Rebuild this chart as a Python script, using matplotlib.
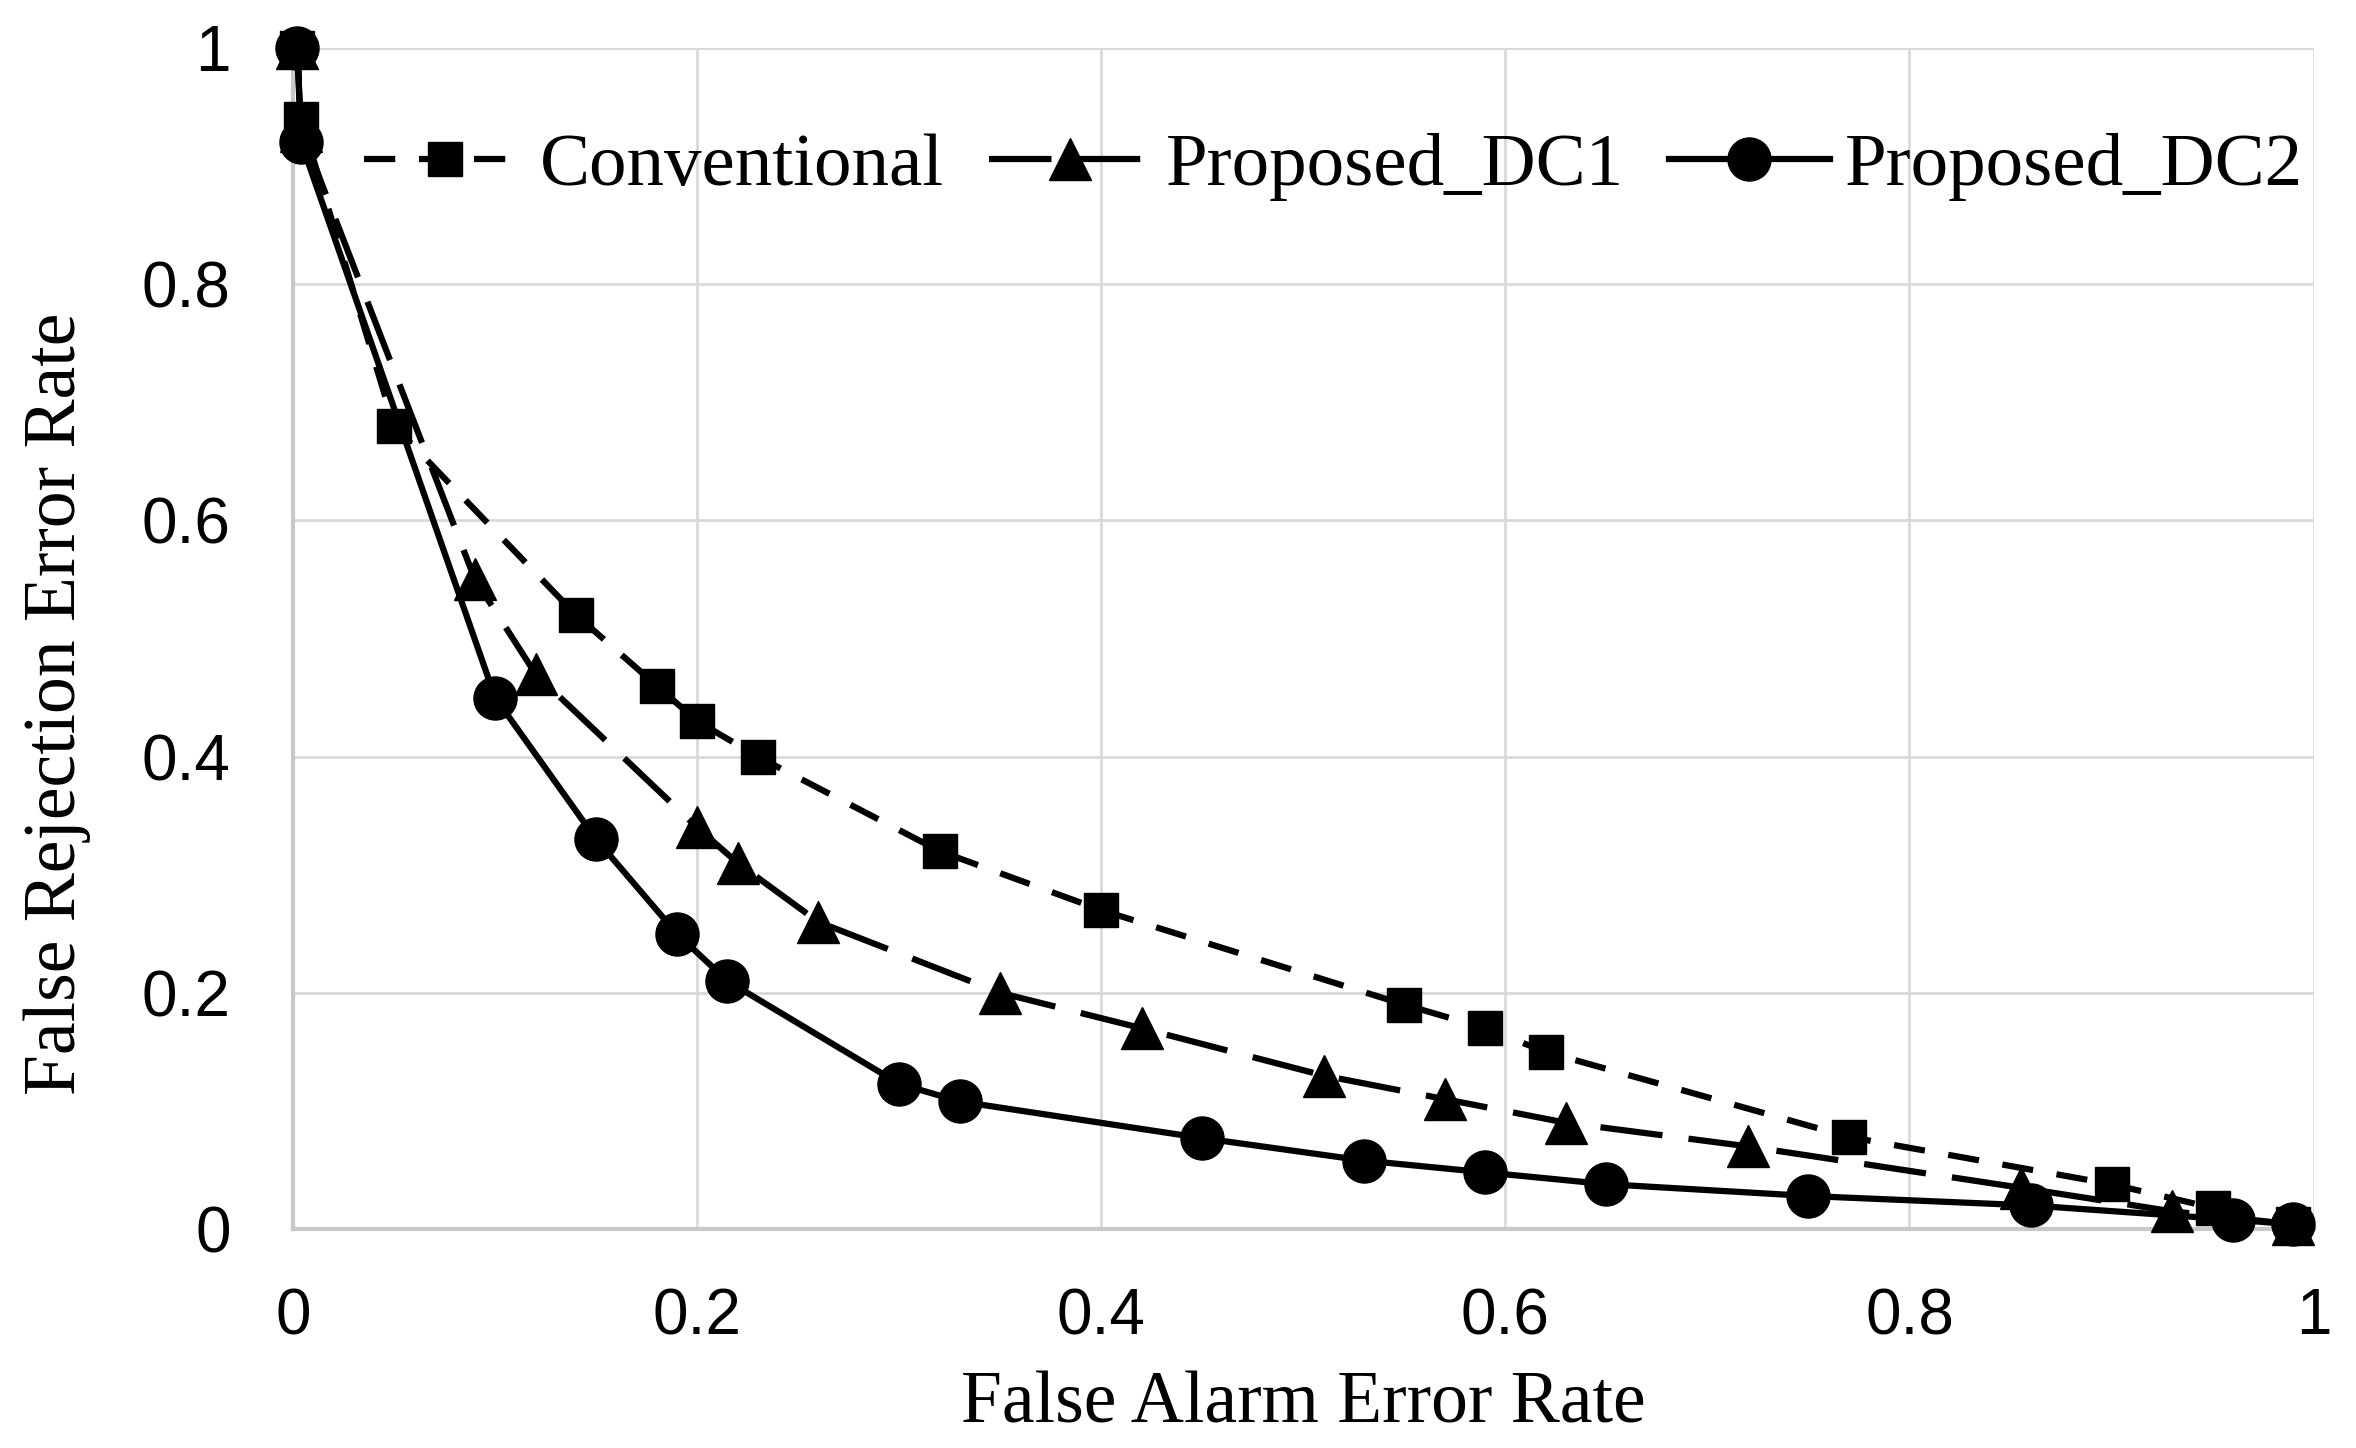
import numpy as np
import matplotlib
matplotlib.use("Agg")
import matplotlib.pyplot as plt

# Data
conv_x = [0.002, 0.004, 0.05, 0.14, 0.18, 0.20, 0.23, 0.32, 0.40, 0.55, 0.59, 0.62, 0.77, 0.90, 0.95, 0.99]
conv_y = [1.00, 0.94, 0.68, 0.52, 0.46, 0.43, 0.40, 0.32, 0.27, 0.19, 0.17, 0.15, 0.078, 0.038, 0.018, 0.004]

dc1_x = [0.002, 0.004, 0.09, 0.12, 0.20, 0.22, 0.26, 0.35, 0.42, 0.51, 0.57, 0.63, 0.72, 0.855, 0.93, 0.99]
dc1_y = [1.00, 0.93, 0.55, 0.47, 0.34, 0.31, 0.26, 0.20, 0.17, 0.13, 0.11, 0.09, 0.07, 0.035, 0.015, 0.004]

dc2_x = [0.002, 0.004, 0.10, 0.15, 0.19, 0.215, 0.30, 0.33, 0.45, 0.53, 0.59, 0.65, 0.75, 0.86, 0.96, 0.99]
dc2_y = [1.00, 0.92, 0.45, 0.33, 0.25, 0.21, 0.123, 0.108, 0.077, 0.058, 0.048, 0.038, 0.028, 0.02, 0.008, 0.004]

ticks = [0, 0.2, 0.4, 0.6, 0.8, 1]
tick_labels = ["0", "0.2", "0.4", "0.6", "0.8", "1"]

fig = plt.figure(figsize=(23.56, 14.48), dpi=100)
ax = fig.add_axes([0.1244, 0.1512, 0.982 - 0.1244, 0.9669 - 0.1512])

lw = 4.5
ax.plot(conv_x, conv_y, color="black", lw=lw, dashes=(5.0, 3.8), marker="s", ms=25,
        label="Conventional", clip_on=False, zorder=3)
ax.plot(dc1_x, dc1_y, color="black", lw=lw, dashes=(10, 4.2), marker="^", ms=30,
        label="Proposed_DC1", clip_on=False, zorder=3)
ax.plot(dc2_x, dc2_y, color="black", lw=lw, ls="-", marker="o", ms=31,
        label="Proposed_DC2", clip_on=False, zorder=3)

ax.set_xlim(0, 1)
ax.set_ylim(0, 1)
ax.set_xticks(ticks)
ax.set_yticks(ticks)
ax.set_xticklabels(tick_labels, fontfamily="Liberation Sans", fontsize=46)
ax.set_yticklabels(tick_labels, fontfamily="Liberation Sans", fontsize=46)
ax.tick_params(axis="both", length=0)
ax.tick_params(axis="y", pad=45)
ax.tick_params(axis="x", pad=42)

ax.grid(True, color="#d9d9d9", lw=2)
ax.set_axisbelow(True)
for side in ["top", "right"]:
    ax.spines[side].set_visible(False)
for side in ["left", "bottom"]:
    ax.spines[side].set_color("#c8c8c8")
    ax.spines[side].set_linewidth(3)

ax.set_xlabel("False Alarm Error Rate", fontfamily="Liberation Serif", fontsize=53)
ax.set_ylabel("False Rejection Error Rate", fontfamily="Liberation Serif", fontsize=53)
ax.xaxis.set_label_coords(0.5, -0.12)
ax.yaxis.set_label_coords(-0.1, 0.445)

ax.legend(loc="center", bbox_to_anchor=(0.566, 0.885), bbox_transform=fig.transFigure,
          ncol=3, frameon=False, numpoints=1, handlelength=2.15, handletextpad=0.2,
          columnspacing=0.6, prop={"family": "Liberation Serif", "size": 54})

fig.savefig("out.png", dpi=100, facecolor="white")
